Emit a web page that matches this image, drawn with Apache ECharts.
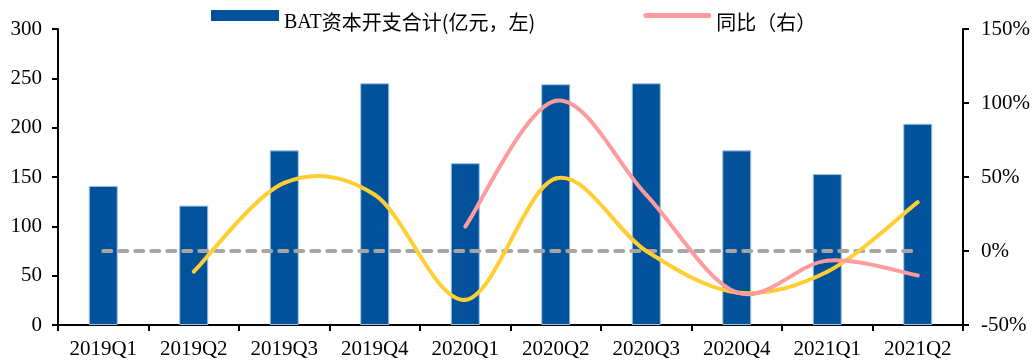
<!DOCTYPE html>
<html><head><meta charset="utf-8">
<script src="https://cdn.jsdelivr.net/npm/echarts@6/dist/echarts.min.js"></script>
<style>html,body{margin:0;padding:0;background:#fff}#c{width:1033px;height:361px}</style>
</head><body><div id="c"></div>
<script>
const categories = ['2019Q1','2019Q2','2019Q3','2019Q4','2020Q1','2020Q2','2020Q3','2020Q4','2021Q1','2021Q2'];
const capex = [141,121,177,245,164,244,245,177,153,204];
const yoy = [null,null,null,null,16.5,101.5,38,-28,-6.5,-16.5];
const qoq = [null,-14,46,38,-33,49,0,-28,-14,33];
const zeroLine = [0,0,0,0,0,0,0,0,0,0];
const leftTicks = {min:0,max:300,interval:50};
const rightTicks = {min:-50,max:150,interval:50};

const serif = 'Liberation Serif';
const cjk = 'Noto Sans CJK SC';

// Excel-style smoothed line drawn through the chart's own axes (api.coord)
function smoothSeries(name, values, color, z){
  const data = [];
  values.forEach(function(v,i){ if(v!==null) data.push([i,v]); });
  return {
    name:name, type:'custom', yAxisIndex:1, z:z, data:data,
    encode:{x:0,y:1}, itemStyle:{color:color},
    renderItem:function(params, api){
      if(params.dataIndex!==0) return null;
      const p = data.map(function(d){ return api.coord([d[0], d[1]]); });
      const n = p.length, segs = [];
      for(let i=0;i<n-1;i++){
        const p0 = p[Math.max(i-1,0)], p1 = p[i], p2 = p[i+1], p3 = p[Math.min(i+2,n-1)];
        segs.push({type:'bezierCurve', shape:{
          x1:p1[0], y1:p1[1], x2:p2[0], y2:p2[1],
          cpx1:p1[0]+(p2[0]-p0[0])/6, cpy1:p1[1]+(p2[1]-p0[1])/6,
          cpx2:p2[0]-(p3[0]-p1[0])/6, cpy2:p2[1]-(p3[1]-p1[1])/6
        }, style:{stroke:color, lineWidth:4, fill:null, lineCap:'round'}});
      }
      return {type:'group', children:segs};
    }
  };
}

const chart = echarts.init(document.getElementById('c'));
chart.setOption({
  animation:false,
  grid:{left:58,right:69,top:29,bottom:36},
  legend:{
    left:206, top:5, itemWidth:68, itemHeight:11, itemGap:108,
    data:[
      {name:'BAT资本开支合计(亿元，左)', icon:'rect', itemStyle:{borderWidth:0}},
      {name:'同比（右）', icon:'path://M2.5,0 L65.5,0 A2.5,2.5 0 0 1 65.5,5 L2.5,5 A2.5,2.5 0 0 1 2.5,0 Z', itemStyle:{color:'#FF9B9E'}}
    ],
    formatter:function(n){
      if(n.indexOf('BAT')===0) return '{a|BAT}{b|' + n.slice(3) + '}';
      return '{b|' + n + '}';
    },
    textStyle:{
      rich:{
        a:{fontFamily:serif,fontSize:20,color:'#000',padding:[14,0,0,0]},
        b:{fontFamily:cjk,fontSize:20,color:'#000',padding:[14,0,0,0]}
      }
    }
  },
  xAxis:{
    type:'category', data:categories, boundaryGap:true,
    axisLine:{lineStyle:{color:'#000',width:2}},
    axisTick:{show:true,alignWithLabel:false,length:6,lineStyle:{color:'#000',width:2}},
    axisLabel:{fontFamily:serif,fontSize:21,color:'#000',margin:14}
  },
  yAxis:[
    {type:'value',min:leftTicks.min,max:leftTicks.max,interval:leftTicks.interval,
     axisLine:{show:true,lineStyle:{color:'#000',width:2}},
     axisTick:{show:true,length:6,lineStyle:{color:'#000',width:2}},
     splitLine:{show:false},
     axisLabel:{fontFamily:serif,fontSize:21,color:'#000',margin:16}},
    {type:'value',min:rightTicks.min,max:rightTicks.max,interval:rightTicks.interval,position:'right',
     axisLine:{show:true,lineStyle:{color:'#000',width:2}},
     axisTick:{show:true,length:6,lineStyle:{color:'#000',width:2}},
     splitLine:{show:false},
     axisLabel:{fontFamily:serif,fontSize:21,color:'#000',margin:18,formatter:'{value}%'}}
  ],
  series:[
    {name:'BAT资本开支合计(亿元，左)',type:'bar',data:capex,barWidth:29,
     itemStyle:{color:'#02529B',borderColor:'#9DC3E6',borderWidth:1}},
    {name:'零线',type:'line',yAxisIndex:1,data:zeroLine,symbol:'none',
     lineStyle:{color:'#A6A6A6',width:4,type:[8,8],cap:'round'},z:3},
    smoothSeries('环比', qoq, '#FFCE33', 4),
    smoothSeries('同比（右）', yoy, '#FF9B9E', 5)
  ]
});
</script></body></html>
